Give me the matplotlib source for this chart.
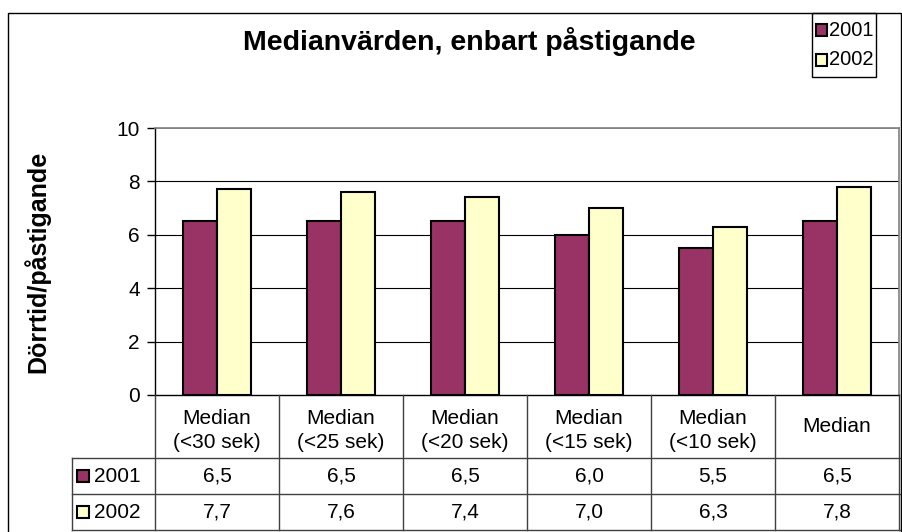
import matplotlib
matplotlib.use("Agg")
import matplotlib.pyplot as plt
import numpy as np
from matplotlib.patches import Rectangle
from matplotlib.lines import Line2D

plt.rcParams['font.family'] = ['Liberation Sans', 'DejaVu Sans']

# data
categories = ["Median\n(<30 sek)", "Median\n(<25 sek)", "Median\n(<20 sek)",
              "Median\n(<15 sek)", "Median\n(<10 sek)", "Median"]
years = ["2001", "2002"]
values_2001 = [6.5, 6.5, 6.5, 6.0, 5.5, 6.5]
values_2002 = [7.7, 7.6, 7.4, 7.0, 6.3, 7.8]
colors = ["#993366", "#FFFFCC"]

W, H = 902, 532
fs = 15
fig = plt.figure(figsize=(W / 100, H / 100), dpi=100)


def fx(px):
    return px / W


def fy(py):
    return 1 - py / H


# outer frame of the chart
fig.add_artist(Rectangle((fx(8), fy(540)), fx(893), fy(13) - fy(540),
                         transform=fig.transFigure, fill=False, lw=1, ec="black"))

# plot area
left, right, top, bottom = 155, 899, 128, 395
ax = fig.add_axes([fx(left), fy(bottom), fx(right - left), fy(top) - fy(bottom)])
x = np.arange(len(categories))
bw = 0.274
ax.bar(x - bw / 2, values_2001, bw, color=colors[0], edgecolor="black", lw=1.5, zorder=3)
ax.bar(x + bw / 2, values_2002, bw, color=colors[1], edgecolor="black", lw=1.5, zorder=3)
ax.set_xlim(-0.5, len(categories) - 0.5)
ax.set_ylim(0, 10)
ax.set_yticks([0, 2, 4, 6, 8, 10])
ax.set_yticklabels(["0", "2", "4", "6", "8", "10"], fontsize=fs)
ax.tick_params(axis="y", length=6, width=1, pad=5)
ax.set_xticks([])
for v in [2, 4, 6, 8]:
    ax.axhline(v, color="black", lw=0.8, zorder=1)
ax.axhline(10, color="#808080", lw=1.2, zorder=1)
ax.spines["top"].set_color("#808080")
ax.spines["right"].set_color("#808080")
ax.spines["top"].set_linewidth(1.2)
ax.spines["right"].set_linewidth(1.2)
ax.spines["left"].set_linewidth(1)
ax.spines["bottom"].set_linewidth(1)

fig.text(fx(37), fy(262), "Dörrtid/påstigande", fontsize=18, fontweight="bold",
         rotation=90, ha="center", va="center")
fig.text(fx(469), fy(42), "Medianvärden, enbart påstigande", fontsize=20.5,
         fontweight="bold", ha="center", va="center")

# legend box top right
fig.add_artist(Rectangle((fx(812), fy(77)), fx(64), fy(13) - fy(77),
                         transform=fig.transFigure, fill=False, lw=1, ec="black"))
for i, yr in enumerate(years):
    yc = 30 + i * 30
    fig.add_artist(Rectangle((fx(816), fy(yc + 6)), fx(11), fy(yc - 6) - fy(yc + 6),
                             transform=fig.transFigure, fc=colors[i], ec="black", lw=1.5))
    fig.text(fx(829), fy(yc), yr, fontsize=14.5, va="center", ha="left")

# data table
col_w = (right - left) / len(categories)
rows_y = [395, 458, 494, 530]
tbl_left = 72
lc = "#404040"


def hline(x0, x1, y):
    fig.add_artist(Line2D([fx(x0), fx(x1)], [fy(y), fy(y)], transform=fig.transFigure,
                          color=lc, lw=1))


def vline(xp, y0, y1):
    fig.add_artist(Line2D([fx(xp), fx(xp)], [fy(y0), fy(y1)], transform=fig.transFigure,
                          color=lc, lw=1))


hline(tbl_left, right + 1, rows_y[1])
hline(tbl_left, right + 1, rows_y[2])
hline(tbl_left, right + 1, rows_y[3])
vline(tbl_left, rows_y[1], rows_y[3])
for i in range(len(categories) + 1):
    vline(left + i * col_w, rows_y[0], rows_y[3])

for i, cat in enumerate(categories):
    cx = left + (i + 0.5) * col_w
    shift = 4 if "\n" in cat else 0
    fig.text(fx(cx), fy((rows_y[0] + rows_y[1]) / 2 + shift), cat, fontsize=fs,
             ha="center", va="center", linespacing=1.4)
    for r, vals in enumerate([values_2001, values_2002]):
        cy = (rows_y[r + 1] + rows_y[r + 2]) / 2
        fig.text(fx(cx), fy(cy), f"{vals[i]:.1f}".replace(".", ","), fontsize=fs,
                 ha="center", va="center")

for r, yr in enumerate(years):
    cy = (rows_y[r + 1] + rows_y[r + 2]) / 2
    fig.add_artist(Rectangle((fx(77), fy(cy + 6)), fx(12), fy(cy - 6) - fy(cy + 6),
                             transform=fig.transFigure, fc=colors[r], ec="black", lw=1.5))
    fig.text(fx(94), fy(cy), yr, fontsize=fs, va="center", ha="left")

fig.savefig("out.png", dpi=100)
